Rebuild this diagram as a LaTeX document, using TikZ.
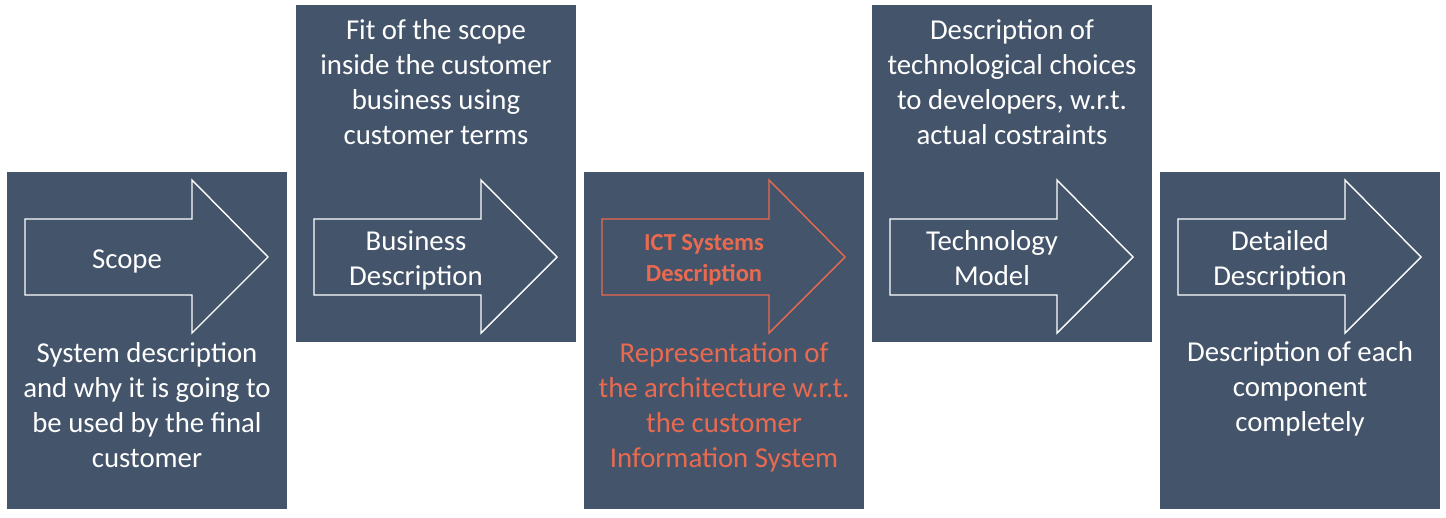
\documentclass[tikz,border=0pt]{standalone}
\usepackage{fontspec}
\setmainfont{Carlito}
\definecolor{slate}{HTML}{44546A}
\definecolor{coral}{HTML}{EA6A50}
\begin{document}
\begin{tikzpicture}[x=1pt,y=-1pt,
  panel/.style={fill=slate},
  arrowshape/.style={draw=white,line width=1.4pt,line join=miter},
  txt/.style={text=white,align=center,font=\fontsize{28.8}{35}\selectfont,inner sep=0pt},
  boldtxt/.style={text=coral,align=center,font=\fontsize{24.5}{31}\selectfont\bfseries,inner sep=0pt}]
\useasboundingbox (0,0) rectangle (1446,517);
% panels
\fill[panel] (7,172) rectangle (287,509);
\fill[panel] (296,5) rectangle (576,342);
\fill[panel] (584,172) rectangle (864,509);
\fill[panel] (872,5) rectangle (1152,342);
\fill[panel] (1160,172) rectangle (1440,509);
% arrows
\foreach \bx/\col in {7/white,296/white,584/coral,872/white,1160/white}{
  \draw[arrowshape,draw=\col] (\bx+18,219) -- (\bx+185,219) -- (\bx+185,180) -- (\bx+261,257)
     -- (\bx+185,333) -- (\bx+185,295) -- (\bx+18,295) -- cycle;
}
% arrow labels
\node[txt] (a1) at (127,261) {Scope};
\node[txt] (a2) at (416,260) {Business\\Description};
\node[boldtxt] (a3) at (704,260) {ICT Systems\\Description};
\node[txt] (a4) at (992,258) {Technology\\Model};
\node[txt] (a5) at (1280,260) {Detailed\\Description};
% descriptions
\node[txt] (d1) at (147,405) {System description\\and why it is going to\\be used by the final\\customer};
\node[txt] (d2) at (436,82) {Fit of the scope\\inside the customer\\business using\\customer terms};
\node[txt,text=coral] (d3) at (724,407) {Representation of\\the architecture w.r.t.\\the customer\\Information System};
\node[txt] (d4) at (1012,82) {Description of\\technological choices\\to developers, w.r.t.\\actual costraints};
\node[txt] (d5) at (1300,389) {Description of each\\component\\completely};
\end{tikzpicture}
\end{document}
